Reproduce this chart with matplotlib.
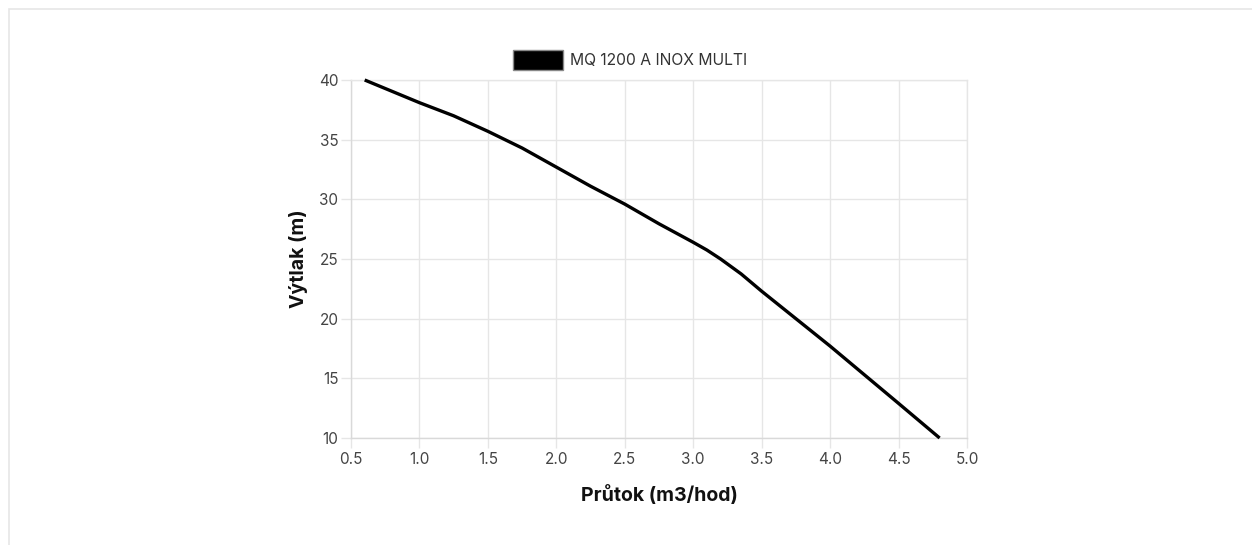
import matplotlib
matplotlib.use("Agg")
import matplotlib.pyplot as plt
from matplotlib.patches import Rectangle

flow = [0.6, 1.0, 1.25, 1.5, 1.75, 2.0, 2.25, 2.5, 2.75, 3.0, 3.1, 3.2, 3.35, 3.5, 3.75, 4.0, 4.25, 4.5, 4.8]
head = [40.0, 38.1, 37.0, 35.7, 34.3, 32.7, 31.1, 29.6, 27.95, 26.4, 25.75, 25.0, 23.75, 22.3, 20.0, 17.7, 15.3, 12.9, 10.0]
series_name = "MQ 1200 A INOX MULTI"
x_ticks = [0.5, 1.0, 1.5, 2.0, 2.5, 3.0, 3.5, 4.0, 4.5, 5.0]
y_ticks = [10, 15, 20, 25, 30, 35, 40]

plt.rcParams['font.family'] = ['Inter', 'DejaVu Sans']

W, H = 1252, 545
fig = plt.figure(figsize=(W / 100, H / 100), dpi=100)
fig.patch.set_facecolor('white')

# card border
fig.add_artist(Rectangle((9 / W, -0.1), 1.2, (H - 9) / H + 0.1, transform=fig.transFigure,
                         fill=False, edgecolor='#e6e6e6', linewidth=1.2))

ax = fig.add_axes([351 / W, 1 - 438 / H, (967 - 351) / W, (438 - 80) / H])
ax.plot(flow, head, color='black', linewidth=2.4, solid_capstyle='butt',
        solid_joinstyle='round', clip_on=False, zorder=3)
ax.set_xlim(0.5, 5.0)
ax.set_ylim(10, 40)
ax.set_xticks(x_ticks)
ax.set_xticklabels([f"{v:.1f}" for v in x_ticks])
ax.set_yticks(y_ticks)
ax.grid(True, color='#e6e6e6', linewidth=1)
ax.set_axisbelow(True)
for s in ax.spines.values():
    s.set_color('#e6e6e6')
    s.set_linewidth(1)
ax.spines['left'].set_color('#d9d9d9')
ax.spines['bottom'].set_color('#d9d9d9')
ax.tick_params(axis='both', colors='#e6e6e6', length=7, width=1, labelcolor='#444444', labelsize=11)
ax.tick_params(axis='x', pad=3)
ax.tick_params(axis='y', pad=2)

ax.set_xlabel("Průtok (m3/hod)", fontsize=14, fontweight='bold', color='#111111', labelpad=13)
ax.set_ylabel("Výtlak (m)", fontsize=14, fontweight='bold', color='#111111', labelpad=8)

# legend
fig.add_artist(Rectangle((513 / W, 1 - 70 / H), 50 / W, 20 / H, transform=fig.transFigure,
                         facecolor='black', edgecolor='#888888', linewidth=1))
fig.text(570 / W, 1 - 60 / H, series_name, fontsize=11.3, color='#333333', va='center', ha='left')

fig.savefig("out.png", dpi=100)
